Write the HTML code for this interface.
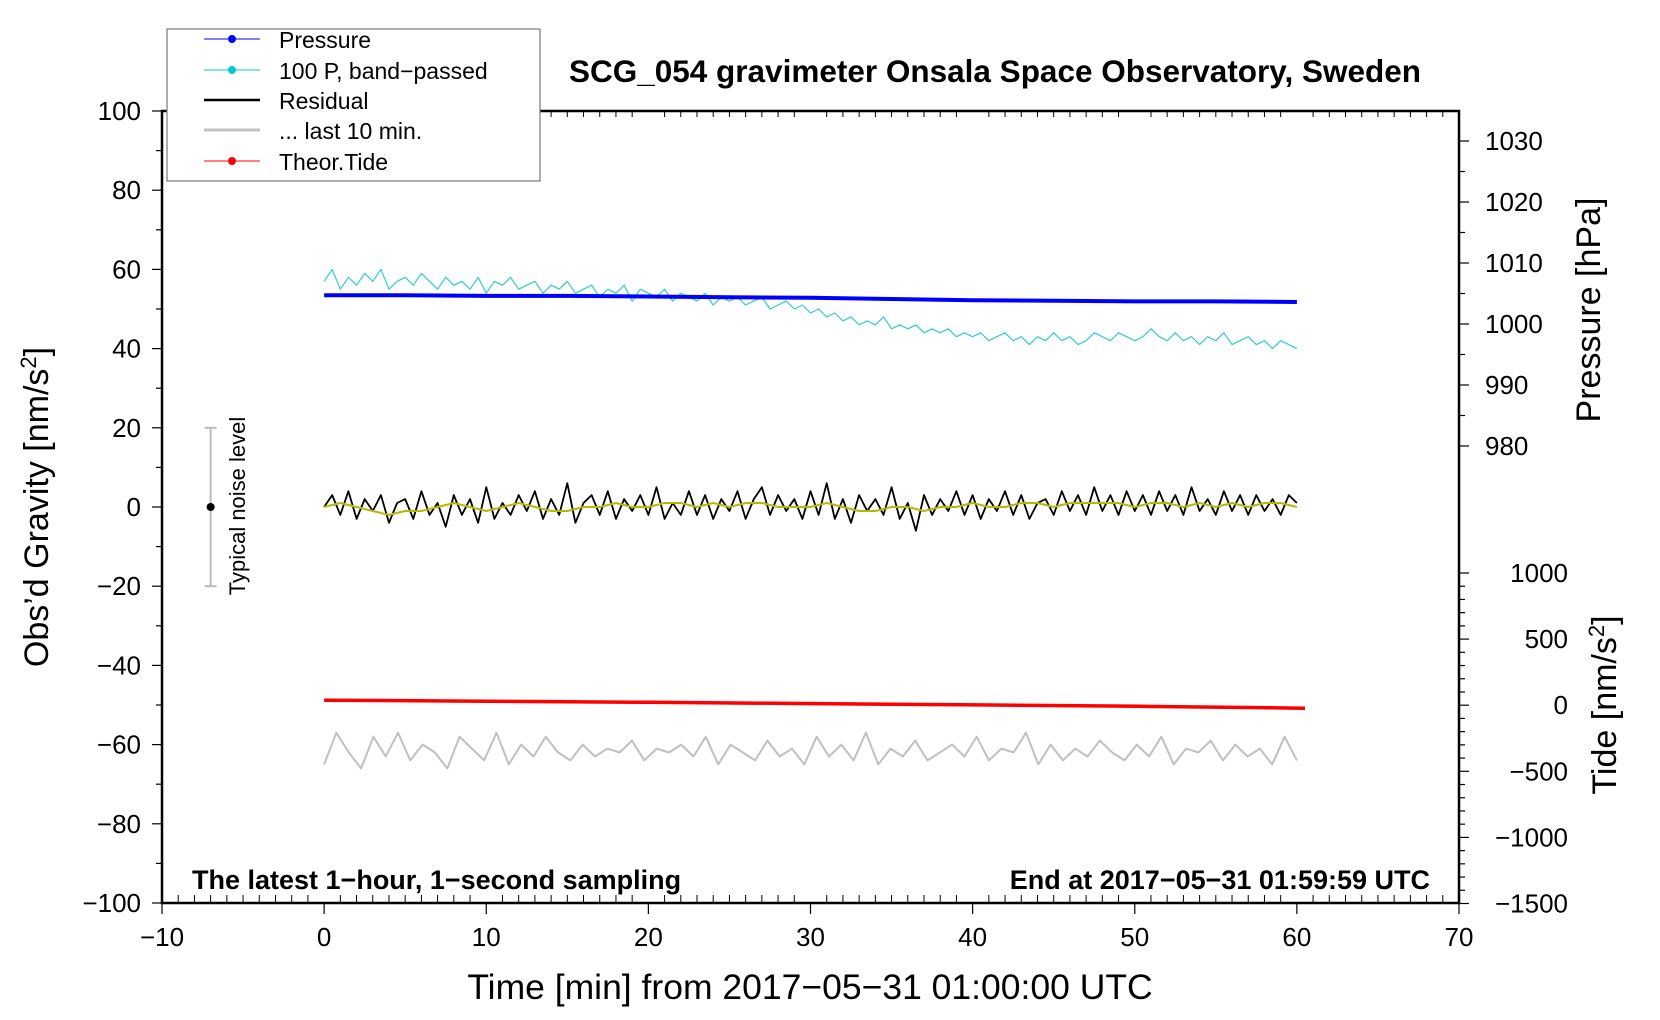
<!DOCTYPE html>
<html><head><meta charset="utf-8"><style>
body{margin:0;background:#fff}
svg{display:block;font-family:"Liberation Sans",sans-serif}
</style></head><body>
<svg id="chart" width="1660" height="1020" viewBox="0 0 1660 1020">
<g id="grid"></g>
<g id="series"></g>
<g id="axes"></g>
<g id="labels">
<text x="995" y="82" font-size="31.5" font-weight="bold" text-anchor="middle">SCG_054 gravimeter Onsala Space Observatory, Sweden</text>
<text x="192" y="889" font-size="27" font-weight="bold">The latest 1−hour, 1−second sampling</text>
<text x="1430" y="889" font-size="27" font-weight="bold" text-anchor="end">End at 2017−05−31 01:59:59 UTC</text>
<text x="810" y="999" font-size="35.5" text-anchor="middle">Time [min] from 2017−05−31 01:00:00 UTC</text>
<text transform="translate(48,507) rotate(-90)" font-size="34" text-anchor="middle">Obs’d Gravity [nm/s<tspan dy="-12" font-size="22">2</tspan><tspan dy="12">]</tspan></text>
<text transform="translate(1600,310) rotate(-90)" font-size="34" text-anchor="middle">Pressure [hPa]</text>
<text transform="translate(1616,705) rotate(-90)" font-size="34" text-anchor="middle">Tide [nm/s<tspan dy="-12" font-size="22">2</tspan><tspan dy="12">]</tspan></text>
<text transform="translate(245,506) rotate(-90)" font-size="22" text-anchor="middle">Typical noise level</text>
</g>
<g id="legend">
<rect x="167" y="29" width="373" height="152" fill="#fff" stroke="#777" stroke-width="1.2"/>
<line x1="204" y1="39" x2="260" y2="39" stroke="#00f" stroke-width="1"/><circle cx="232" cy="39" r="4" fill="#00f"/>
<text x="279" y="48" font-size="23">Pressure</text>
<line x1="204" y1="70" x2="260" y2="70" stroke="#00cccc" stroke-width="1"/><circle cx="232" cy="70" r="4" fill="#00cccc"/>
<text x="279" y="79" font-size="23">100 P, band−passed</text>
<line x1="204" y1="100" x2="260" y2="100" stroke="#000" stroke-width="2.5"/>
<text x="279" y="109" font-size="23">Residual</text>
<line x1="204" y1="130" x2="260" y2="130" stroke="#c0c0c0" stroke-width="3"/>
<text x="279" y="139" font-size="23">... last 10 min.</text>
<line x1="204" y1="161" x2="260" y2="161" stroke="#f00" stroke-width="1"/><circle cx="232" cy="161" r="4" fill="#f00"/>
<text x="279" y="170" font-size="23">Theor.Tide</text>
</g>
</svg>
<script>
const xTicks=[-10,0,10,20,30,40,50,60,70];
const yTicks=[100,80,60,40,20,0,-20,-40,-60,-80,-100];
const pTicks=[1030,1020,1010,1000,990,980];
const tideTicks=[1000,500,0,-500,-1000,-1500];
const pressure=[1004.7,1004.7,1004.6,1004.6,1004.5,1004.4,1004.3,1004.1,1003.9,1003.8,1003.7,1003.7,1003.6];
const bandPassed=[57,60,55,58,56,59,57,60,55,57,58,56,59,57,55,58,56,57,55,58,
54,57,56,58,55,56,57,54,56,55,57,54,55,56,53,55,54,56,52,55,
54,53,55,52,54,53,52,54,51,53,52,53,51,52,53,50,51,52,50,51,
49,50,48,49,47,48,46,47,46,48,45,46,45,46,44,45,44,45,43,44,
43,44,42,43,44,42,43,41,43,42,44,42,43,41,42,44,43,42,44,43,
42,43,45,43,42,44,42,43,41,43,42,44,41,42,43,41,42,40,42,41,40];
const residual=[0,3,-2,4,-3,2,-1,3,-4,1,2,-3,4,-2,1,-5,3,-2,2,-4,
5,-3,1,-2,3,-1,4,-3,2,-2,6,-4,1,3,-2,4,-3,2,-1,3,
-2,5,-3,1,-2,4,-2,3,-3,2,-1,4,-3,2,5,-2,3,-1,2,-3,
4,-2,6,-3,2,-4,3,-1,2,-2,5,-3,1,-6,3,-2,2,-1,4,-2,
3,-3,2,-1,4,-2,3,-3,1,2,-2,4,-1,3,-2,5,-1,3,-2,4,
-1,3,-2,4,-1,3,-2,5,-1,2,-2,4,-1,3,-2,3,-1,2,-2,3,1];
const smoothed=[0,1,0,-1,-2,-1,-1,0,1,0,-1,0,1,0,-1,-1,0,0,1,0,0,1,1,0,1,0,1,1,0,0,0,1,0,-1,-1,0,0,-1,0,0,1,0,0,1,1,0,1,1,1,1,0,1,1,0,1,0,1,0,1,1,0];
const last10=[-65,-57,-62,-66,-58,-63,-57,-64,-60,-62,-66,-58,-61,-64,-57,-65,-60,-63,-58,-62,-64,-60,-63,-61,-62,-59,-64,-61,-62,-60,-63,-58,-65,-60,-62,-64,-59,-63,-61,-65,-58,-63,-60,-64,-57,-65,-61,-63,-59,-64,-62,-60,-63,-58,-64,-61,-62,-57,-65,-60,-64,-61,-63,-59,-62,-64,-60,-63,-58,-65,-61,-62,-59,-64,-60,-63,-61,-65,-58,-64];
const tide=[38,30,22,12,2,-8,-23];

const NS='http://www.w3.org/2000/svg';
const L=162,R=1459,T=111,B=903;
const X=t=>L+(t+10)*(R-L)/80;
const Y=v=>T+(100-v)*(B-T)/200;
const YP=p=>141+(1030-p)*6.1;
const YT=v=>573+(1000-v)*0.1322;
function mk(tag,attrs,parent){const e=document.createElementNS(NS,tag);for(const k in attrs)e.setAttribute(k,attrs[k]);parent.appendChild(e);return e;}
const axes=document.getElementById('axes'),ser=document.getElementById('series');
function poly(arr,yf,tEnd,color,w,name){
  const pts=arr.map((v,i)=>X(i*tEnd/(arr.length-1)).toFixed(1)+','+yf(v).toFixed(1)).join(' ');
  const p=mk('polyline',{points:pts,fill:'none',stroke:color,'stroke-width':w,'stroke-linejoin':'round'},ser);
  
  
}
poly(bandPassed,Y,60,'#33cccc',1.2,'bandpassed-line');
poly(pressure,YP,60,'#0000ff',4,'pressure-line');
poly(residual,Y,60,'#000',1.8,'residual-line');
poly(smoothed,Y,60,'#b8b800',2,'smoothed-line');
poly(last10,Y,60,'#c0c0c0',2,'last10-line');
poly(tide,YT,60.5,'#ff0000',3.5,'tide-line');
mk('line',{x1:X(-7),y1:Y(20),x2:X(-7),y2:Y(-20),stroke:'#bbb','stroke-width':2},ser);
mk('line',{x1:X(-7)-6,y1:Y(20),x2:X(-7)+6,y2:Y(20),stroke:'#bbb','stroke-width':2},ser);
mk('line',{x1:X(-7)-6,y1:Y(-20),x2:X(-7)+6,y2:Y(-20),stroke:'#bbb','stroke-width':2},ser);
mk('circle',{cx:X(-7),cy:Y(0),r:4,fill:'#000'},ser);
mk('rect',{x:L,y:T,width:R-L,height:B-T,fill:'none',stroke:'#000','stroke-width':2.5},axes);
for(let t=-10;t<=70;t++){const maj=t%10===0;
  mk('line',{x1:X(t),y1:B,x2:X(t),y2:B-(maj?0:8),stroke:'#000','stroke-width':1},axes);
  mk('line',{x1:X(t),y1:B,x2:X(t),y2:B+(maj?11:0),stroke:'#000','stroke-width':1.2},axes);
  mk('line',{x1:X(t),y1:T,x2:X(t),y2:T+(maj?0:6),stroke:'#000','stroke-width':1},axes);}
xTicks.forEach(t=>{const e=mk('text',{x:X(t),y:946,'font-size':26,'text-anchor':'middle'},axes);e.textContent=String(t).replace('-','−');
  
  });
for(let v=-100;v<=100;v+=10){mk('line',{x1:L,y1:Y(v),x2:L-(v%20===0?10:6),y2:Y(v),stroke:'#000','stroke-width':1.2},axes);}
yTicks.forEach(v=>{const e=mk('text',{x:141,y:Y(v)+9,'font-size':26,'text-anchor':'end'},axes);e.textContent=String(v).replace('-','−');
  
  });
for(let p=975;p<=1035;p+=5){if(YP(p)<T||YP(p)>470)continue;mk('line',{x1:R,y1:YP(p),x2:R+(p%10===0?10:6),y2:YP(p),stroke:'#000','stroke-width':1.2},axes);}
pTicks.forEach(p=>{const e=mk('text',{x:1485,y:YP(p)+9,'font-size':26},axes);e.textContent=p;
  
  });
for(let v=-1500;v<=1000;v+=100){mk('line',{x1:R,y1:YT(v),x2:R+(v%500===0?10:6),y2:YT(v),stroke:'#000','stroke-width':1.2},axes);}
tideTicks.forEach(v=>{const e=mk('text',{x:1568,y:YT(v)+9,'font-size':26,'text-anchor':'end'},axes);e.textContent=String(v).replace('-','−');
  
  });
</script>
</body></html>
